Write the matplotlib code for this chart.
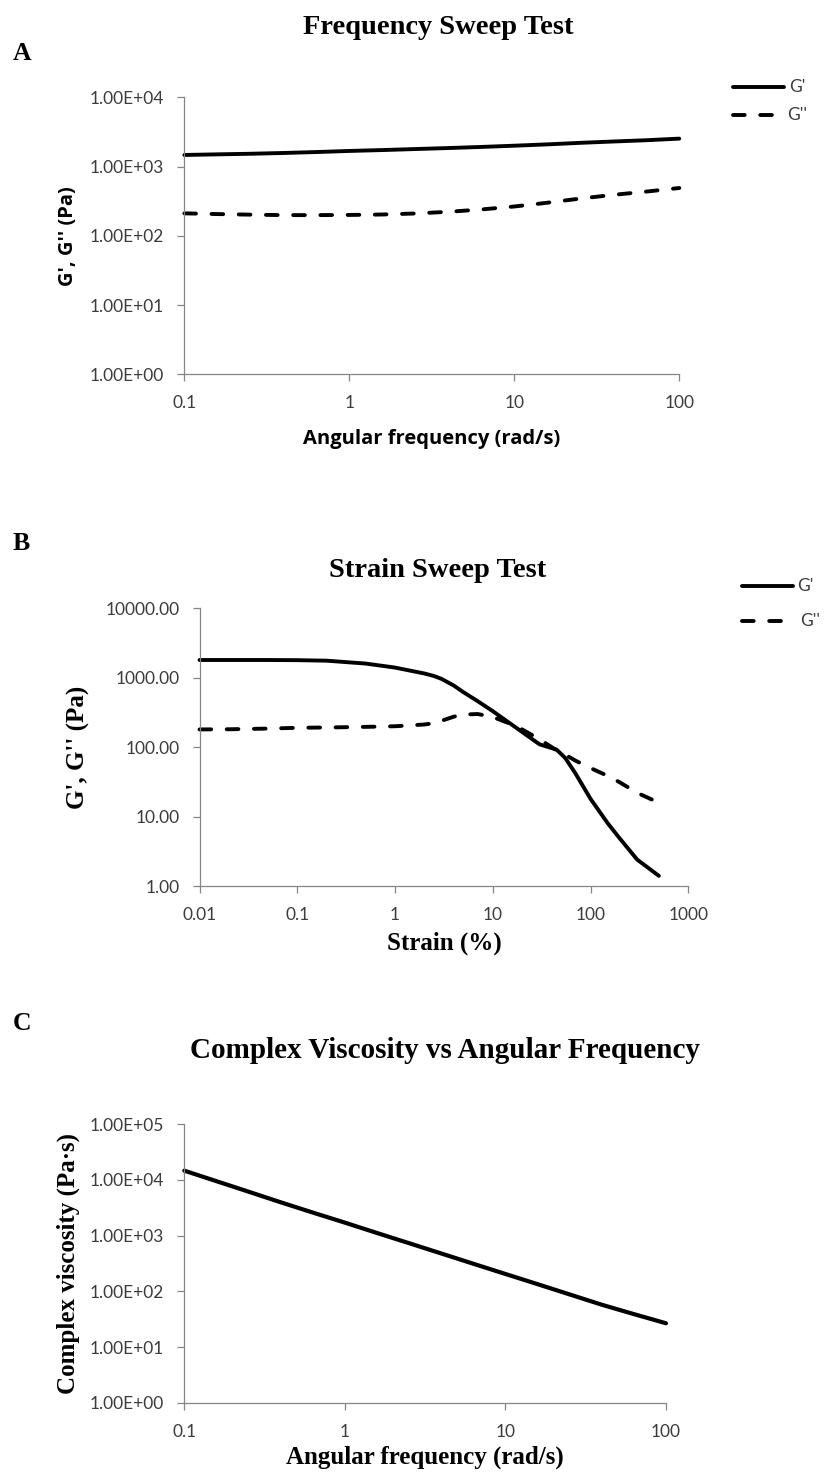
import matplotlib
matplotlib.use("Agg")
import matplotlib.pyplot as plt
from matplotlib.lines import Line2D
from matplotlib.ticker import FixedLocator, FixedFormatter, NullLocator

plt.rcParams["font.family"] = ["Lato", "DejaVu Sans"]

W, H, DPI = 824, 1474, 100

# ---------------- data ----------------
# (A) frequency sweep, angular frequency in rad/s
freq = [0.1, 0.158, 0.251, 0.398, 0.631, 1, 1.58, 2.51, 3.98, 6.31,
        10, 15.8, 25.1, 39.8, 63.1, 100]
g_storage_freq = [1470, 1500, 1530, 1570, 1620, 1680, 1730, 1790, 1850, 1920,
                  2000, 2090, 2200, 2300, 2400, 2530]
g_loss_freq = [211, 206, 202, 199, 199, 200, 203, 210, 222, 240,
               265, 300, 345, 390, 435, 490]

# (B) strain sweep, strain in %
strain = [0.01, 0.02, 0.05, 0.1, 0.2, 0.5, 1, 2, 2.5, 3, 4, 5, 7, 10, 15, 20, 30,
          45, 55, 70, 100, 150, 200, 300, 500]
g_storage_strain = [1800, 1800, 1800, 1790, 1760, 1600, 1400, 1150, 1060, 960,
                    770, 620, 460, 330, 220, 165, 110, 92, 70, 42, 18, 8, 4.8,
                    2.4, 1.4]
g_loss_strain = [180, 181, 185, 190, 192, 196, 200, 212, 222, 240, 275, 295,
                 300, 272, 218, 180, 130, 90, 78, 64, 50, 38.5, 31, 22, 15.8]

# (C) complex viscosity in Pa·s over the same frequency grid as (A)
complex_visc = [14700, 9550, 6170, 3980, 2600, 1714, 1120, 733, 479, 313,
                205, 135, 88, 57.5, 39, 26.7]

# tick values and labels
freq_ticks = [0.1, 1, 10, 100]
freq_tick_labels = ["0.1", "1", "10", "100"]
strain_ticks = [0.01, 0.1, 1, 10, 100, 1000]
strain_tick_labels = ["0.01", "0.1", "1", "10", "100", "1000"]
mod_ticks_a = [1, 10, 100, 1000, 10000]
mod_tick_labels_a = ["1.00E+00", "1.00E+01", "1.00E+02", "1.00E+03", "1.00E+04"]
mod_ticks_b = [1, 10, 100, 1000, 10000]
mod_tick_labels_b = ["1.00", "10.00", "100.00", "1000.00", "10000.00"]
visc_ticks = [1, 10, 100, 1000, 10000, 100000]
visc_tick_labels = ["1.00E+00", "1.00E+01", "1.00E+02", "1.00E+03",
                    "1.00E+04", "1.00E+05"]

# ---------------- styling ----------------
AXIS_GREY = "#868686"
TEXT_GREY = "#3c3c3c"
SERIF = ["Liberation Serif", "DejaVu Serif"]
TICK_SIZE = 12.5
DASHES = (3, 4)

fig = plt.figure(figsize=(W / DPI, H / DPI), dpi=DPI)
fig.patch.set_facecolor("white")


def fx(x):
    return x / W


def fy(y):
    return 1 - y / H


def make_axes(left, top, right, bottom):
    return fig.add_axes([fx(left), fy(bottom), (right - left) / W, (bottom - top) / H])


def style_axes(ax, xticks, xlabels, yticks, ylabels, xlim, ylim):
    ax.set_xscale("log")
    ax.set_yscale("log")
    ax.set_xlim(*xlim)
    ax.set_ylim(*ylim)
    ax.xaxis.set_major_locator(FixedLocator(xticks))
    ax.xaxis.set_major_formatter(FixedFormatter(xlabels))
    ax.yaxis.set_major_locator(FixedLocator(yticks))
    ax.yaxis.set_major_formatter(FixedFormatter(ylabels))
    ax.xaxis.set_minor_locator(NullLocator())
    ax.yaxis.set_minor_locator(NullLocator())
    for side in ("top", "right"):
        ax.spines[side].set_visible(False)
    for side in ("left", "bottom"):
        ax.spines[side].set_color(AXIS_GREY)
        ax.spines[side].set_linewidth(0.9)
    ax.tick_params(axis="both", which="major", direction="out", length=5,
                   width=0.9, color=AXIS_GREY, labelcolor=TEXT_GREY,
                   labelsize=TICK_SIZE)
    ax.tick_params(axis="x", pad=10)
    ax.tick_params(axis="y", pad=9.5)
    ax.set_facecolor("white")


def legend_entry(x0, x1, y, dashed, label, tx, lw=2.8):
    kw = dict(transform=fig.transFigure, color="black", lw=lw,
              solid_capstyle="round", dash_capstyle="round")
    line = Line2D([fx(x0), fx(x1)], [fy(y), fy(y)], **kw)
    if dashed:
        line.set_dashes(DASHES)
    fig.add_artist(line)
    fig.text(fx(tx), fy(y), label, ha="left", va="center",
             fontsize=TICK_SIZE, color=TEXT_GREY)


def plot_series(ax, x, y, dashed=False, lw=2.8):
    (ln,) = ax.plot(x, y, color="black", lw=lw, solid_capstyle="round",
                    dash_capstyle="round", solid_joinstyle="round",
                    clip_on=False)
    if dashed:
        ln.set_dashes(DASHES)
    return ln


# ---------------- (A) Frequency Sweep Test ----------------
axA = make_axes(184.3, 97.3, 679.3, 374.3)
style_axes(axA, freq_ticks, freq_tick_labels, mod_ticks_a, mod_tick_labels_a,
           (0.1, 100), (1, 10000))
plot_series(axA, freq, g_storage_freq)
plot_series(axA, freq, g_loss_freq, dashed=True)
axA.set_xlabel("Angular frequency (rad/s)", fontsize=14.5, fontweight="bold",
               family=["Open Sans", "DejaVu Sans"], color="black", va="center")
axA.xaxis.set_label_coords(0.5, (374.3 - 439) / (374.3 - 97.3))
axA.set_ylabel("G', G'' (Pa)", fontsize=14.5, fontweight="bold",
               family=["Open Sans", "DejaVu Sans"], color="black", va="center")
axA.yaxis.set_label_coords((68 - 184.3) / (679.3 - 184.3), 0.5)

fig.text(fx(438), fy(28), "Frequency Sweep Test", ha="center", va="center",
         fontsize=20.5, fontweight="bold", family=SERIF)
fig.text(fx(13), fy(53.5), "A", ha="left", va="center",
         fontsize=18.5, fontweight="bold", family=SERIF)
legend_entry(733, 784, 87, False, "G'", 789)
legend_entry(733, 784, 115, True, "G''", 787)

# ---------------- (B) Strain Sweep Test ----------------
axB = make_axes(199.5, 608.3, 688.3, 886.0)
style_axes(axB, strain_ticks, strain_tick_labels, mod_ticks_b, mod_tick_labels_b,
           (0.01, 1000), (1, 10000))
plot_series(axB, strain, g_storage_strain)
plot_series(axB, strain, g_loss_strain, dashed=True)
axB.set_xlabel("Strain (%)", fontsize=18, fontweight="bold", family=SERIF,
               color="black", va="center")
axB.xaxis.set_label_coords(0.5, (886.0 - 943) / (886.0 - 608.3))
axB.set_ylabel("G', G'' (Pa)", fontsize=18, fontweight="bold", family=SERIF,
               color="black", va="center")
axB.yaxis.set_label_coords((78 - 199.5) / (688.3 - 199.5), 0.5)

fig.text(fx(438), fy(571), "Strain Sweep Test", ha="center", va="center",
         fontsize=20.5, fontweight="bold", family=SERIF)
fig.text(fx(13), fy(544), "B", ha="left", va="center",
         fontsize=18.5, fontweight="bold", family=SERIF)
legend_entry(742, 793, 586, False, "G'", 797)
legend_entry(742, 793, 621, True, "G''", 800)

# ---------------- (C) Complex viscosity ----------------
axC = make_axes(184.3, 1124.3, 666.0, 1402.7)
style_axes(axC, freq_ticks, freq_tick_labels, visc_ticks, visc_tick_labels,
           (0.1, 100), (1, 100000))
plot_series(axC, freq, complex_visc, lw=3.0)
axC.set_xlabel("Angular frequency (rad/s)", fontsize=18, fontweight="bold",
               family=SERIF, color="black", va="center")
axC.xaxis.set_label_coords(0.5, (1402.7 - 1457) / (1402.7 - 1124.3))
axC.set_ylabel("Complex viscosity (Pa\u00b7s)", fontsize=18, fontweight="bold",
               family=SERIF, color="black", va="center")
axC.yaxis.set_label_coords((68 - 184.3) / (666.0 - 184.3), 0.5)

fig.text(fx(445), fy(1051), "Complex Viscosity vs Angular Frequency",
         ha="center", va="center", fontsize=21, fontweight="bold", family=SERIF)
fig.text(fx(13), fy(1024), "C", ha="left", va="center",
         fontsize=18.5, fontweight="bold", family=SERIF)

fig.savefig("out.png", dpi=DPI, facecolor="white")
